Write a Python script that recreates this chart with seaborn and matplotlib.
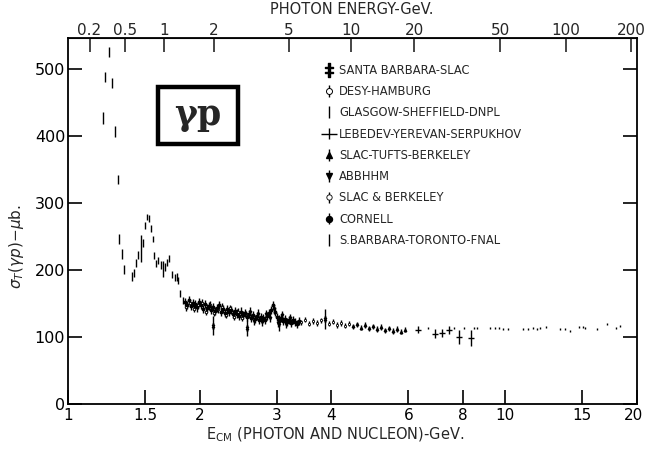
import numpy as np
import matplotlib
matplotlib.use('Agg')
import matplotlib.pyplot as plt
import matplotlib.patches as mpatches
import matplotlib.transforms as mtransforms
from matplotlib.ticker import NullLocator, FixedLocator
import seaborn as sns

MP = 0.938  # proton mass, GeV

# Glasgow-Sheffield-DNPL : resonance region
glas_w = [1.202, 1.215, 1.241, 1.261, 1.281, 1.301, 1.308, 1.329, 1.343, 1.401, 1.416,
          1.431, 1.446, 1.469, 1.485, 1.501, 1.517, 1.533, 1.549, 1.565, 1.574, 1.590,
          1.607, 1.633, 1.650, 1.667, 1.685, 1.703, 1.730, 1.758, 1.776, 1.785, 1.804, 1.833]
glas_sig = [427, 488, 525, 479, 406, 335, 246, 224, 201, 190, 195,
            211, 222, 232, 240, 266, 279, 277, 262, 246, 222, 210,
            214, 207, 202, 204, 211, 217, 193, 189, 189, 184, 165, 154]
glas_err = [9, 7, 7, 8, 8, 7, 7, 7, 7, 7, 6,
            6, 6, 20, 6, 5, 5, 5, 5, 5, 5, 5,
            5, 6, 12, 6, 5, 5, 5, 5, 6, 5, 5, 5]

# Cornell : dense band 1.85 - 3.4 GeV
corn_w = [1.852, 1.872, 1.892, 1.912, 1.932, 1.952, 1.973, 1.994, 2.015, 2.036, 2.058,
          2.080, 2.102, 2.124, 2.147, 2.169, 2.193, 2.216, 2.239, 2.263, 2.287, 2.312,
          2.336, 2.361, 2.386, 2.411, 2.437, 2.463, 2.489, 2.515, 2.541, 2.568, 2.596,
          2.623, 2.651, 2.679, 2.707, 2.736, 2.765, 2.794, 2.824, 2.854, 2.884, 2.914,
          2.945, 2.977, 3.008, 3.040, 3.072, 3.105, 3.138, 3.171, 3.204, 3.238, 3.272,
          3.307, 3.342, 3.377]
corn_sig = [152, 148, 155, 146, 151, 149, 144, 152, 147, 142, 149,
            143, 146, 140, 145, 139, 143, 147, 138, 142, 136, 141,
            137, 140, 134, 139, 135, 132, 138, 133, 136, 130, 134,
            129, 133, 127, 131, 126, 130, 128, 125, 131, 136, 140,
            147, 138, 130, 126, 129, 124, 127, 122, 126, 121, 125,
            123, 120, 124]

# DESY-Hamburg
desy_w = [1.862, 1.902, 1.942, 1.984, 2.026, 2.069, 2.113, 2.158, 2.204, 2.251,
          2.299, 2.349, 2.399, 2.449, 2.502, 2.555]
desy_sig = [144, 150, 142, 147, 151, 138, 148, 136, 141, 145,
            133, 143, 130, 138, 129, 134]

# ABBHHM
abb_w = [2.609, 2.665, 2.722, 2.780, 2.839, 2.900, 2.961, 3.024, 3.088, 3.154, 3.221]
abb_sig = [138, 124, 135, 123, 134, 128, 141, 121, 133, 119, 129]

# Santa Barbara-SLAC : points with long error bars
sbs_w = [2.147, 2.568, 3.040, 3.874]
sbs_sig = [117, 114, 121, 127]
sbs_err = [14, 12, 12, 15]

# SLAC & Berkeley
slb_w = [3.413, 3.485, 3.560, 3.636, 3.713, 3.792, 3.956, 4.041, 4.127, 4.214, 4.304, 4.396]
slb_sig = [122, 126, 120, 124, 121, 125, 120, 123, 118, 121, 117, 120]

# SLAC-Tufts-Berkeley
stb_w = [4.490, 4.585, 4.683, 4.783, 4.885, 4.989, 5.095, 5.203, 5.314, 5.427, 5.543,
         5.661, 5.781, 5.904]
stb_sig = [116, 119, 114, 118, 113, 116, 112, 115, 110, 113, 109, 112, 108, 111]

# Lebedev-Yerevan-Serpukhov
leb_w = [6.323, 6.917, 7.175, 7.444, 7.848, 8.360]
leb_sig = [111, 105, 106, 110, 100, 99]
leb_err = [5, 7, 6, 6, 10, 12]

# S.Barbara-Toronto-FNAL
fnal_w = [6.665, 7.643, 8.056, 8.493, 8.629, 9.240, 9.487, 9.690, 9.895, 10.16, 11.00,
          11.29, 11.59, 11.84, 12.03, 12.41, 13.36, 13.72, 14.09, 14.77, 15.09, 15.25,
          16.24, 17.12, 17.86, 18.33]
fnal_sig = [114, 114, 114, 113, 113, 114, 113, 114, 112, 112, 112,
            112, 113, 112, 114, 115, 112, 112, 109, 115, 115, 114,
            112, 120, 114, 117]

x_ticks = [1, 1.5, 2, 3, 4, 6, 8, 10, 15, 20]
x_labels = ['1', '1.5', '2', '3', '4', '6', '8', '10', '15', '20']
e_ticks = [0.2, 0.5, 1, 2, 5, 10, 20, 50, 100, 200]
e_labels = ['0.2', '0.5', '1', '2', '5', '10', '20', '50', '100', '200']
y_ticks = [0, 100, 200, 300, 400, 500]

sns.set_style('ticks')
plt.rcParams['font.family'] = ['DejaVu Sans']

fig, ax = plt.subplots(figsize=(6.45, 4.51), dpi=100)
fig.subplots_adjust(left=0.1054, right=0.9876, bottom=0.1042, top=0.9157)

kw = dict(ls='none', color='black', ecolor='black', elinewidth=1.0, capsize=0, ms=1.8)
ax.errorbar(sbs_w, sbs_sig, yerr=sbs_err, marker=r'$\ddagger$', label='SANTA BARBARA-SLAC', **{**kw, 'ms': 4})
ax.errorbar(desy_w, desy_sig, yerr=5, marker='o', mfc='white', mew=0.7, label='DESY-HAMBURG', **kw)
ax.errorbar(glas_w, glas_sig, yerr=glas_err, marker='', label='GLASGOW-SHEFFIELD-DNPL', **kw)
ax.errorbar(leb_w, leb_sig, yerr=leb_err, marker='_', mew=1.0, label='LEBEDEV-YEREVAN-SERPUKHOV', **{**kw, 'ms': 5})
ax.errorbar(stb_w, stb_sig, yerr=4, marker='^', label='SLAC-TUFTS-BERKELEY', **kw)
ax.errorbar(abb_w, abb_sig, yerr=6, marker='v', label='ABBHHM', **kw)
ax.errorbar(slb_w, slb_sig, yerr=4, marker='o', mfc='white', mew=0.6, label='SLAC & BERKELEY', **{**kw, 'ms': 1.6})
ax.errorbar(corn_w, corn_sig, yerr=6, marker='o', label='CORNELL', **kw)
ax.errorbar(fnal_w, fnal_sig, yerr=1.5, marker='', label='S.BARBARA-TORONTO-FNAL', **kw)

ax.set_xscale('log')
ax.set_xlim(1, 20)
ax.set_ylim(0, 546)
ax.xaxis.set_major_locator(FixedLocator(x_ticks))
ax.xaxis.set_minor_locator(NullLocator())
ax.set_xticklabels(x_labels)
ax.set_yticks(y_ticks)
ax.tick_params(axis='both', which='major', direction='in', length=10, width=1.2,
               labelsize=11.5, colors='black', right=True, top=False)
ax.tick_params(axis='y', pad=2)
ax.tick_params(axis='x', pad=3, labelsize=11)
# last bottom label sits on the figure edge, nudge it in a little
shift = mtransforms.ScaledTranslation(-4 / 100, 0, fig.dpi_scale_trans)
lab20 = ax.get_xticklabels()[-1]
lab20.set_transform(lab20.get_transform() + shift)
for s in ax.spines.values():
    s.set_visible(True)
    s.set_linewidth(1.3)
    s.set_color('black')


def w_to_e(w):
    w = np.asarray(w, dtype=float)
    return np.clip((w ** 2 - MP ** 2) / (2 * MP), 1e-6, None)


def e_to_w(e):
    e = np.asarray(e, dtype=float)
    return np.sqrt(MP ** 2 + 2 * MP * e)


sec = ax.secondary_xaxis('top', functions=(w_to_e, e_to_w))
sec.xaxis.set_major_locator(FixedLocator(e_ticks))
sec.xaxis.set_minor_locator(NullLocator())
sec.set_xticklabels(e_labels)
sec.tick_params(direction='in', length=10, width=1.2, labelsize=11, pad=0)
fig.text(0.546, 0.978, 'PHOTON ENERGY-GeV.', ha='center', va='center', fontsize=10.5)

ax.set_xlabel(r'E$_{\mathregular{CM}}$ (PHOTON AND NUCLEON)-GeV.', fontsize=10.5,
              labelpad=2, x=0.47)
ax.set_ylabel(r'$\sigma_T(\gamma p)$$-$$\mu$b.', fontsize=11, labelpad=6, y=0.43)

# gamma-p box
ax.add_patch(mpatches.Rectangle((0.158, 0.711), 0.141, 0.155, transform=ax.transAxes,
                                fill=False, lw=3.2, ec='black'))
ax.text(0.2285, 0.79, 'γp', transform=ax.transAxes, ha='center', va='center',
        fontsize=25, family='DejaVu Serif', fontweight='bold')

leg = ax.legend(loc='upper left', bbox_to_anchor=(0.45, 0.93), frameon=False,
                handlelength=0.8, handletextpad=0.5, markerscale=2.4, labelspacing=0.72,
                borderpad=0, borderaxespad=0, prop={'family': 'DejaVu Sans', 'size': 8.3})

fig.savefig('out.png', dpi=100)
